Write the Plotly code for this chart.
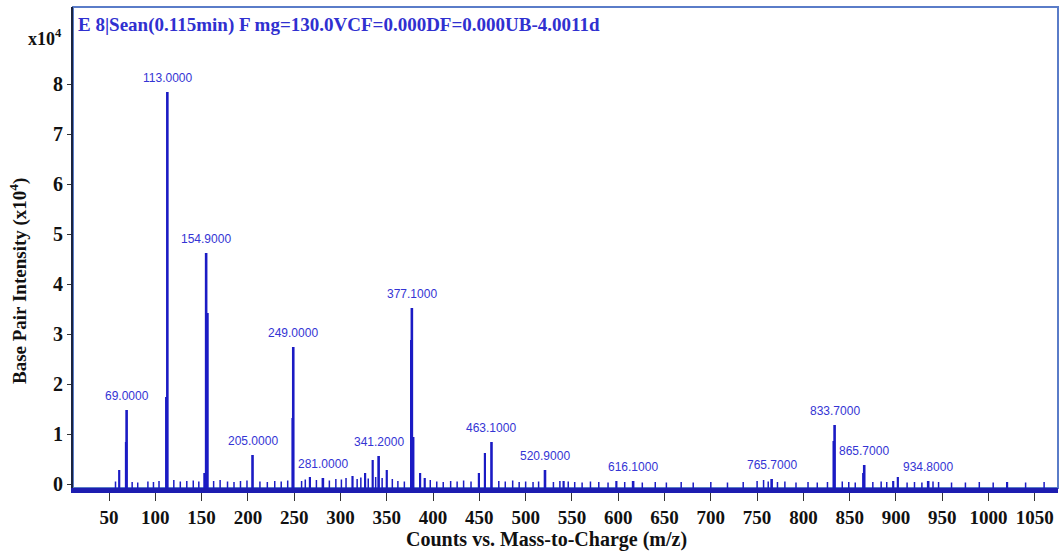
import plotly.graph_objects as go

# Labelled peaks: m/z and intensity (x10^4 counts)
label_mz = [69.0, 113.0, 154.9, 205.0, 249.0, 281.0, 341.2, 377.1,
            463.1, 520.9, 616.1, 765.7, 833.7, 865.7, 934.8]
label_int = [1.48, 7.84, 4.62, 0.58, 2.74, 0.12, 0.56, 3.52,
             0.84, 0.28, 0.06, 0.10, 1.18, 0.38, 0.06]

# Unlabelled fragment / isotope peaks
minor_mz = [61.0, 68.3, 111.7, 153.0, 156.5, 248.2, 267.0, 313.0, 326.6,
            334.8, 350.0, 376.3, 378.7, 386.0, 391.0, 449.5, 456.0, 541.0,
            598.0, 832.6, 864.6, 897.0, 902.0, 1020.0]
minor_int = [0.28, 0.84, 1.74, 0.22, 3.42, 1.32, 0.14, 0.16, 0.22,
             0.48, 0.28, 2.88, 0.94, 0.22, 0.12, 0.22, 0.62, 0.06,
             0.06, 0.86, 0.22, 0.06, 0.14, 0.04]

# Baseline noise
noise_mz = [57, 75, 81, 92, 98, 104, 120, 127, 134, 141, 147, 163, 170, 178,
            185, 192, 199, 213, 221, 229, 236, 243, 258, 262, 274, 288, 295,
            301, 306, 318, 322, 330, 338, 345, 356, 362, 369, 397, 404, 411,
            419, 426, 433, 441, 471, 478, 486, 493, 500, 508, 514, 530, 537,
            546, 553, 561, 570, 579, 589, 607, 626, 640, 652, 668, 681, 700,
            718, 735, 750, 757, 762, 772, 780, 792, 805, 815, 826, 842, 849,
            856, 875, 884, 890, 912, 920, 928, 940, 946, 960, 975, 990, 1005,
            1040, 1060]
noise_int = [0.05, 0.04, 0.03, 0.05, 0.04, 0.06, 0.08, 0.05, 0.06, 0.07, 0.05,
             0.06, 0.08, 0.05, 0.04, 0.06, 0.07, 0.05, 0.04, 0.06, 0.05, 0.07,
             0.06, 0.09, 0.08, 0.07, 0.10, 0.09, 0.12, 0.10, 0.13, 0.11, 0.14,
             0.12, 0.10, 0.06, 0.05, 0.08, 0.05, 0.04, 0.06, 0.05, 0.07, 0.05,
             0.06, 0.05, 0.07, 0.04, 0.05, 0.04, 0.05, 0.04, 0.06, 0.05, 0.04,
             0.03, 0.05, 0.04, 0.03, 0.04, 0.03, 0.04, 0.03, 0.04, 0.03, 0.04,
             0.03, 0.04, 0.06, 0.08, 0.05, 0.04, 0.05, 0.03, 0.04, 0.03, 0.04,
             0.05, 0.04, 0.03, 0.04, 0.05, 0.04, 0.03, 0.04, 0.03, 0.05, 0.04,
             0.03, 0.03, 0.04, 0.03, 0.03, 0.04]

x_ticks = list(range(50, 1051, 50))
y_ticks = list(range(0, 9))

Y_FLOOR = -0.08
STICK = "#1b1bc4"
LABEL = "#3434d4"
SERIF = "Liberation Serif"


def sticks(mzs, ints):
    xs, ys = [], []
    for m, h in zip(mzs, ints):
        xs += [m, m, None]
        ys += [Y_FLOOR, h, None]
    return xs, ys


fig = go.Figure()
for mzs, ints, w in [(noise_mz, noise_int, 1.5),
                     (minor_mz, minor_int, 2.2),
                     (label_mz, label_int, 2.6)]:
    sx, sy = sticks(mzs, ints)
    fig.add_trace(go.Scatter(x=sx, y=sy, mode="lines",
                             line=dict(color=STICK, width=w),
                             hoverinfo="skip", showlegend=False))

for m, h in zip(label_mz, label_int):
    fig.add_annotation(x=m, y=h, text=f"{m:.4f}", showarrow=False,
                       yshift=14,
                       font=dict(family="Liberation Sans Narrow, Liberation Sans",
                                 size=12, color=LABEL))

fig.add_annotation(xref="paper", yref="paper", x=0.003, y=0.963,
                   xanchor="left", yanchor="middle", showarrow=False,
                   text="E 8|Sean(0.115min) F mg=130.0VCF=0.000DF=0.000UB-4.0011d",
                   font=dict(family=SERIF, size=19, color="#3030d0", weight="bold"))
fig.add_annotation(xref="paper", yref="paper", x=-0.048, y=0.936,
                   xanchor="left", yanchor="middle", showarrow=False,
                   text="x10<sup>4</sup>",
                   font=dict(family=SERIF, size=18, color="#111", weight="bold"))
fig.add_annotation(xref="paper", yref="paper", x=-0.056, y=0.43,
                   xanchor="center", yanchor="middle", showarrow=False,
                   textangle=-90, text="Base Pair Intensity (x10<sup>4</sup>)",
                   font=dict(family=SERIF, size=19, color="#111", weight="bold"))
fig.add_annotation(xref="paper", yref="paper", x=0.481, y=-0.108,
                   xanchor="center", yanchor="middle", showarrow=False,
                   text="Counts vs. Mass-to-Charge (m/z)",
                   font=dict(family=SERIF, size=20, color="#111", weight="bold"))

fig.add_shape(type="rect", xref="paper", yref="paper", x0=0, x1=1, y0=0, y1=1,
              line=dict(color="#5a7cc8", width=2), layer="below")

fig.update_layout(
    width=1061, height=552,
    margin=dict(l=73, r=3, t=7, b=64),
    paper_bgcolor="white", plot_bgcolor="white",
    showlegend=False,
    xaxis=dict(range=[11.1, 1075], tickmode="array", tickvals=x_ticks,
               ticks="outside", ticklen=8, tickcolor="#333", tickwidth=1,
               showline=True, linecolor="#1d1db0", linewidth=5,
               showgrid=False, zeroline=False,
               tickfont=dict(family=SERIF, size=19, color="#111", weight="bold")),
    yaxis=dict(range=[Y_FLOOR, 9.54], tickmode="array", tickvals=y_ticks,
               ticks="outside", ticklen=4, tickcolor="#333",
               showline=True, linecolor="#1b2540", linewidth=2,
               showgrid=False, zeroline=False,
               tickfont=dict(family=SERIF, size=20, color="#111", weight="bold")),
)

fig.write_html("out.html")
